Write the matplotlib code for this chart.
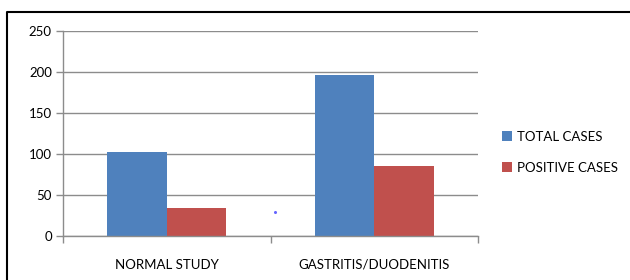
import matplotlib
matplotlib.use('Agg')
from matplotlib import pyplot as plt
from matplotlib.lines import Line2D
import numpy as np

categories = ['NORMAL STUDY', 'GASTRITIS/DUODENITIS']
total_cases = [103, 196]
positive_cases = [35, 85]
series_names = ['TOTAL CASES', 'POSITIVE CASES']
y_ticks = [0, 50, 100, 150, 200, 250]

blue = '#4f81bd'
red = '#c0504d'
grid_grey = '#8c8c8c'

plt.rcParams['font.family'] = ['Lato', 'DejaVu Sans']

fig = plt.figure(figsize=(6.3, 2.8), dpi=100)
ax = fig.add_axes([63 / 630, 1 - 236.3 / 280, (478 - 63) / 630, 205.3 / 280])

x = np.arange(len(categories))
w = 0.287
ax.bar(x - w / 2, total_cases, w, color=blue, label=series_names[0])
ax.bar(x + w / 2, positive_cases, w, color=red, label=series_names[1])

ax.set_xlim(-0.5, len(categories) - 0.5)
ax.set_ylim(0, 250)
ax.set_yticks(y_ticks)
ax.yaxis.grid(True, color=grid_grey, linewidth=1)
ax.set_axisbelow(True)

ax.set_xticks(x)
ax.set_xticklabels(categories)
ax.set_xticks([-0.5, 0.5, 1.5], minor=True)
ax.tick_params(axis='x', which='major', length=0, pad=16, labelsize=9.5, colors='black')
ax.tick_params(axis='x', which='minor', length=5, color=grid_grey, width=1, direction='out')
ax.tick_params(axis='y', length=5, color=grid_grey, width=1, labelsize=9.5, pad=3)

for side in ['top', 'right']:
    ax.spines[side].set_visible(False)
for side in ['left', 'bottom']:
    ax.spines[side].set_color(grid_grey)
    ax.spines[side].set_linewidth(1)

# stray dot seen in the source image
ax.plot([0.52], [29], marker='o', markersize=1.2, color='#6666ff', linestyle='none')

ax.legend(loc='center left', bbox_to_anchor=(1.03, 0.41), frameon=False,
          fontsize=9.5, handlelength=0.7, handleheight=0.7, handletextpad=0.4,
          labelspacing=1.45)

# outer frame of the picture
fig.add_artist(Line2D([7 / 630, 7 / 630, 1.0], [0.0, 1 - 12 / 280, 1 - 12 / 280],
                      color='black', linewidth=1.5, transform=fig.transFigure))

fig.savefig('out.png', dpi=100)
